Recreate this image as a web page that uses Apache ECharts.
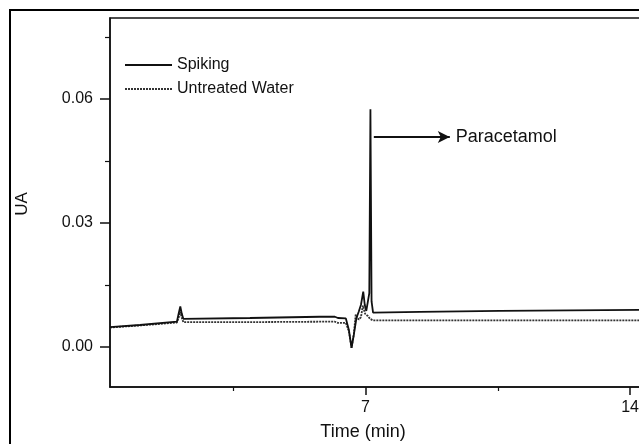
<!DOCTYPE html>
<html>
<head>
<meta charset="utf-8">
<script src="https://cdn.jsdelivr.net/npm/echarts@6/dist/echarts.min.js"></script>
<style>
  html, body { margin: 0; padding: 0; background: #fff; }
  #chart { width: 639px; height: 444px; }
</style>
</head>
<body>
<div id="chart"></div>
<script>
// Spiking trace (time in min, UA)
var spikingTime = [0.24, 1.03, 2.01, 2.06, 2.10, 2.14, 2.18, 3.94, 5.79, 6.19, 6.27, 6.48, 6.56, 6.63, 6.69, 6.76, 6.82, 6.88, 6.94, 6.98, 7.02, 7.07, 7.10, 7.13, 7.16, 7.20, 8.44, 10.55, 14.5];
var spikingUA   = [0.0048, 0.0053, 0.0061, 0.0082, 0.0098, 0.0080, 0.0068, 0.0070, 0.0073, 0.0073, 0.0070, 0.0069, 0.0041, -0.0002, 0.0029, 0.0070, 0.0085, 0.0102, 0.0134, 0.0102, 0.0087, 0.0114, 0.0130, 0.0575, 0.0110, 0.0083, 0.0085, 0.0087, 0.0090];

// Untreated water trace
var untreatedTime = [0.24, 1.03, 2.01, 2.06, 2.10, 2.14, 2.18, 3.94, 5.79, 6.19, 6.27, 6.48, 6.56, 6.63, 6.69, 6.74, 6.77, 6.82, 6.88, 6.93, 6.99, 7.06, 7.12, 7.20, 10.55, 14.5];
var untreatedUA   = [0.0047, 0.0052, 0.0059, 0.0072, 0.0085, 0.0070, 0.0060, 0.0060, 0.0061, 0.0061, 0.0058, 0.0058, 0.0038, -0.0002, 0.0030, 0.0078, 0.0082, 0.0066, 0.0072, 0.0100, 0.0080, 0.0075, 0.0068, 0.0064, 0.0064, 0.0064];

// ticks
var yLabelTicks = [0, 0.03, 0.06];
var yMinorTicks = [0.015, 0.045, 0.075];
var xLabelTicks = [7, 14];
var xMinorTicks = [3.5, 10.5];

var font = 'Liberation Sans, Arial, sans-serif';

function pairs(xs, ys) {
  var out = [];
  for (var i = 0; i < xs.length; i++) out.push([xs[i], ys[i]]);
  return out;
}

var chart = echarts.init(document.getElementById('chart'));

var xBase = {
  type: 'value', min: 0.24, max: 14.5,
  splitLine: { show: false }
};
var yBase = {
  type: 'value', min: -0.0097, max: 0.0796,
  splitLine: { show: false }
};

chart.setOption({
  animation: false,
  backgroundColor: '#fff',
  grid: {
    left: 110, top: 18, width: 539, height: 369,
    outerBoundsMode: 'none',
    show: true, borderColor: '#111', borderWidth: 1.5
  },
  legend: {
    orient: 'vertical',
    left: 119, top: 52,
    itemWidth: 47, itemHeight: 14, itemGap: 8,
    itemStyle: { opacity: 0 },
    textStyle: { fontFamily: font, fontSize: 16, color: '#111' },
    data: ['Spiking', 'Untreated Water']
  },
  xAxis: [
    Object.assign({}, xBase, {
      axisLine: { show: true, onZero: false, lineStyle: { color: '#111', width: 1.5 } },
      axisTick: { show: true, length: 8, customValues: xLabelTicks, lineStyle: { color: '#111', width: 1.5 } },
      axisLabel: { customValues: xLabelTicks, margin: 13, fontFamily: font, fontSize: 16, color: '#111' }
    }),
    Object.assign({}, xBase, {
      position: 'bottom',
      axisLine: { show: false, onZero: false },
      axisTick: { show: true, length: 4, customValues: xMinorTicks, lineStyle: { color: '#111', width: 1.2 } },
      axisLabel: { show: false }
    })
  ],
  yAxis: [
    Object.assign({}, yBase, {
      axisLine: { show: true, onZero: false, lineStyle: { color: '#111', width: 1.5 } },
      axisTick: { show: true, length: 10, customValues: yLabelTicks, lineStyle: { color: '#111', width: 1.5 } },
      axisLabel: {
        customValues: yLabelTicks, margin: 17, fontFamily: font, fontSize: 16, color: '#111',
        formatter: function (v) { return v.toFixed(2); }
      }
    }),
    Object.assign({}, yBase, {
      position: 'left',
      axisLine: { show: false, onZero: false },
      axisTick: { show: true, length: 5, customValues: yMinorTicks, lineStyle: { color: '#111', width: 1.2 } },
      axisLabel: { show: false }
    })
  ],
  series: [
    {
      name: 'Untreated Water',
      type: 'line',
      symbol: 'none',
      data: pairs(untreatedTime, untreatedUA),
      lineStyle: { color: '#333', width: 1.8, type: [2, 1] },
      itemStyle: { color: '#333' }
    },
    {
      name: 'Spiking',
      type: 'line',
      symbol: 'none',
      data: pairs(spikingTime, spikingUA),
      lineStyle: { color: '#111', width: 1.8 },
      itemStyle: { color: '#111' },
      markLine: {
        silent: true,
        symbol: ['none', 'arrow'],
        symbolSize: [9, 12],
        lineStyle: { color: '#111', width: 1.8, type: 'solid' },
        label: {
          show: true, position: 'end', distance: 6,
          formatter: 'Paracetamol',
          fontFamily: font, fontSize: 18, color: '#111'
        },
        data: [[{ coord: [7.22, 0.0508] }, { coord: [9.23, 0.0508] }]]
      }
    }
  ],
  graphic: [
    {
      type: 'rect',
      shape: { x: 10, y: 10, width: 700, height: 500 },
      style: { fill: 'none', stroke: '#000', lineWidth: 2 },
      silent: true
    },
    {
      type: 'text',
      x: 22, y: 204, rotation: Math.PI / 2,
      style: { text: 'UA', font: '17px ' + font, fill: '#111', align: 'center', verticalAlign: 'middle' }
    },
    {
      type: 'text',
      x: 363, y: 432,
      style: { text: 'Time (min)', font: '18px ' + font, fill: '#111', align: 'center', verticalAlign: 'middle' }
    }
  ]
});
</script>
</body>
</html>
